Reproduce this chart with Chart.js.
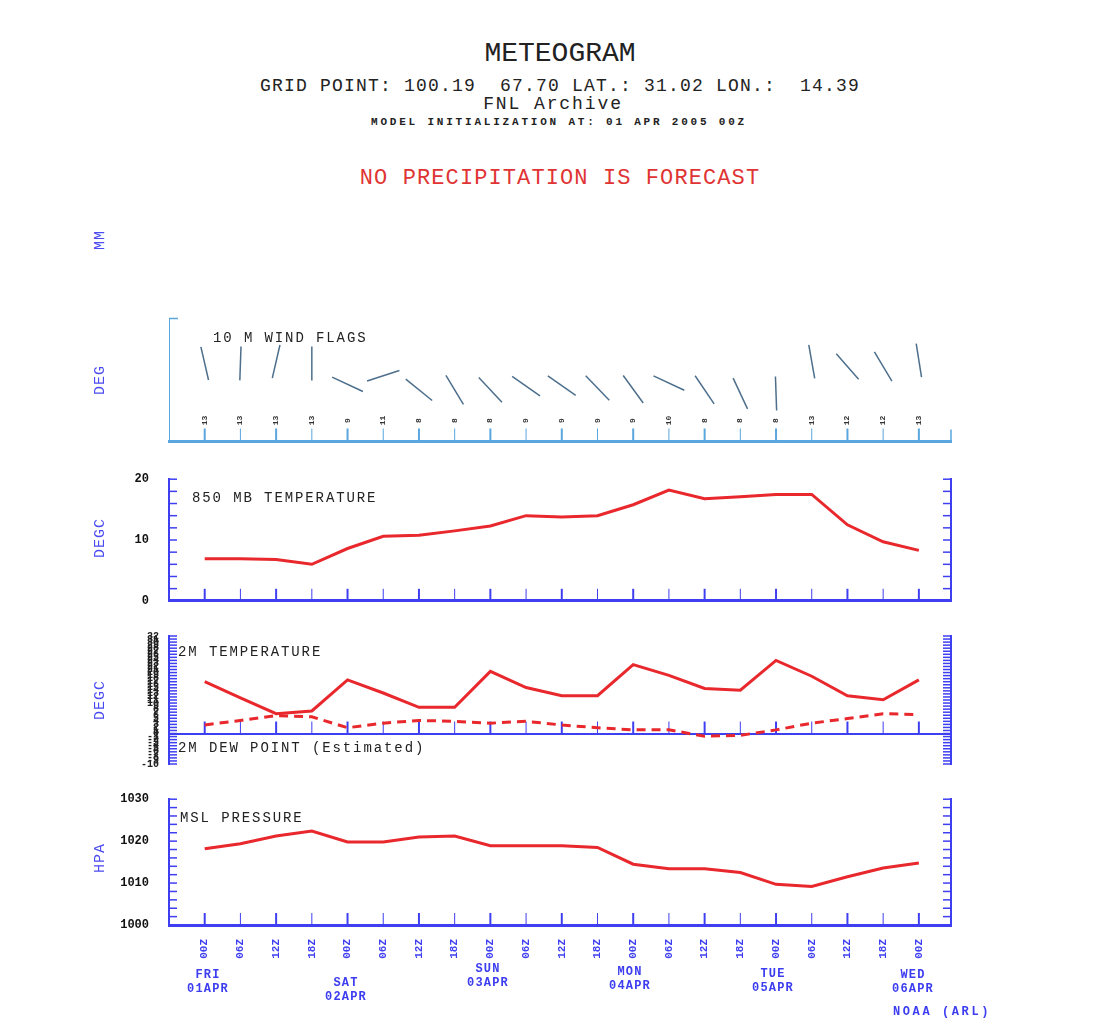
<!DOCTYPE html>
<html>
<head>
<meta charset="utf-8">
<script src="https://cdn.jsdelivr.net/npm/chart.js@4.4.0/dist/chart.umd.min.js"></script>
<style>
  body { margin: 0; background: #fff; width: 1118px; height: 1022px; position: relative; overflow: hidden;
         font-family: "Liberation Mono", "DejaVu Sans Mono", monospace; }
  canvas { position: absolute; left: 0; }
  .t { position: absolute; white-space: pre; line-height: 1; color: #222; }
  .c { transform: translateX(-50%); text-align: center; }
  .ax { position: absolute; white-space: nowrap; line-height: 1; color: #4a4af0; font-size: 15px; letter-spacing: 1px;
        transform: translate(-50%, -50%) rotate(-90deg); }
  .lbl { font-size: 14px; letter-spacing: 1.9px; color: #222; }
  .day { position: absolute; transform: translateX(-50%); text-align: center; color: #3c3cf0; font-weight: bold;
         font-size: 12px; letter-spacing: 1.2px; line-height: 14px; }
</style>
</head>
<body>
<canvas id="wind" width="1118" height="160" style="top:300px"></canvas>
<canvas id="t850" width="1118" height="160" style="top:460px"></canvas>
<canvas id="t2m" width="1118" height="160" style="top:620px"></canvas>
<canvas id="msl" width="1118" height="242" style="top:780px"></canvas>

<div class="t c" style="left:560px;top:40px;font-size:28px;">METEOGRAM</div>
<div class="t c" style="left:560px;top:77px;font-size:18px;letter-spacing:1.2px;">GRID POINT: 100.19  67.70 LAT.: 31.02 LON.:  14.39</div>
<div class="t c" style="left:553px;top:95px;font-size:18px;letter-spacing:1.9px;">FNL Archive</div>
<div class="t c" style="left:559px;top:117px;font-size:11px;font-weight:bold;letter-spacing:2.8px;">MODEL INITIALIZATION AT: 01 APR 2005 00Z</div>
<div class="t c" style="left:560px;top:168px;font-size:22px;letter-spacing:1.1px;color:#e03434;">NO PRECIPITATION IS FORECAST</div>

<div class="ax" style="left:100px;top:240px;">MM</div>
<div class="ax" style="left:100px;top:380px;">DEG</div>
<div class="ax" style="left:100px;top:538px;">DEGC</div>
<div class="ax" style="left:100px;top:700px;">DEGC</div>
<div class="ax" style="left:100px;top:858px;">HPA</div>

<div class="t lbl" style="left:213px;top:331px;">10 M WIND FLAGS</div>
<div class="t lbl" style="left:192px;top:491px;">850 MB TEMPERATURE</div>
<div class="t lbl" style="left:178px;top:645px;">2M TEMPERATURE</div>
<div class="t lbl" style="left:178px;top:741px;">2M DEW POINT (Estimated)</div>
<div class="t lbl" style="left:180px;top:811px;">MSL PRESSURE</div>

<div class="day" style="left:208px;top:968px;">FRI<br>01APR</div>
<div class="day" style="left:346px;top:976px;">SAT<br>02APR</div>
<div class="day" style="left:488px;top:962px;">SUN<br>03APR</div>
<div class="day" style="left:630px;top:965px;">MON<br>04APR</div>
<div class="day" style="left:773px;top:967px;">TUE<br>05APR</div>
<div class="day" style="left:913px;top:968px;">WED<br>06APR</div>
<div class="day" style="transform:none;left:893px;top:1005px;letter-spacing:2.6px;">NOAA (ARL)</div>

<script>
const hours = ["00Z", "06Z", "12Z", "18Z", "00Z", "06Z", "12Z", "18Z", "00Z", "06Z", "12Z",
               "18Z", "00Z", "06Z", "12Z", "18Z", "00Z", "06Z", "12Z", "18Z", "00Z"];

// 10 m wind: staff direction (deg, screen) and speed (kt)
const windDir   = [77, 92, 103, 90, 25, -18, 39, 59, 47, 35, 35, 46, 54, 25, 56, 65, 88, 80, 49, 59, 81];
const windSpeed = [12.7, 12.7, 13.0, 12.7, 9.3, 10.7, 8.4, 8.4, 8.4, 9.0, 9.1, 8.7, 8.5, 9.5, 8.4, 7.8, 7.8, 13.0, 12.2, 12.2, 13.2];

const temp850 = [6.9, 6.9, 6.8, 6.0, 8.6, 10.6, 10.8, 11.5, 12.3, 14.0, 13.8,
                 14.0, 15.8, 18.2, 16.8, 17.1, 17.5, 17.5, 12.5, 9.7, 8.3];
const temp2m  = [17.0, 11.7, 6.5, 7.4, 17.6, 13.3, 8.6, 8.6, 20.4, 15.1, 12.4,
                 12.4, 22.6, 19.1, 14.8, 14.2, 24.0, 18.8, 12.4, 11.1, 17.6];
const dew2m   = [2.8, 4.3, 5.9, 5.5, 1.9, 3.4, 4.3, 4.0, 3.4, 4.0, 2.8,
                 1.9, 1.2, 1.2, -0.9, -0.6, 1.2, 3.4, 4.9, 6.5, 6.2];
const mslp    = [1018.2, 1019.4, 1021.2, 1022.4, 1019.8, 1019.8, 1021.0, 1021.2, 1018.9, 1018.9, 1018.9,
                 1018.5, 1014.5, 1013.4, 1013.4, 1012.5, 1009.7, 1009.2, 1011.5, 1013.6, 1014.8];

const BLUE  = "#3f3ff2";
const LIGHT = "#5aa6de";
const RED   = "#e8282c";
const idx = hours.map((h, i) => i);

function xy(arr) { return arr.map((v, i) => ({ x: i, y: v })); }

// short tick marks pointing into the plot, plus optional labels above the x ticks
const inTicks = {
  id: "inTicks",
  beforeDatasetsDraw(chart, args, o) {
    const { ctx, chartArea: a, scales: { x, y } } = chart;
    const line = (x1, y1, x2, y2) => { ctx.beginPath(); ctx.moveTo(x1, y1); ctx.lineTo(x2, y2); ctx.stroke(); };
    ctx.save();
    ctx.strokeStyle = o.color;
    const by = o.base == null ? a.bottom : y.getPixelForValue(o.base);
    idx.forEach(i => {
      const px = x.getPixelForValue(i);
      ctx.lineWidth = i % 2 ? 1 : 2;
      line(px, by, px, by - o.xLen);
    });
    ctx.lineWidth = 1.5;
    if (o.yLen) {
      y.ticks.forEach(t => {
        const py = y.getPixelForValue(t.value);
        line(a.left, py, a.left + o.yLen, py);
        if (o.right) line(a.right, py, a.right - o.yLen, py);
      });
    }
    if (o.stubs) {
      line(a.left, a.top, a.left + 9, a.top);
      line(a.right, a.bottom, a.right, a.bottom - 12);
    }
    if (o.labels) {
      ctx.fillStyle = "#333";
      ctx.font = "bold 8px 'Liberation Mono'";
      ctx.textAlign = "center";
      ctx.textBaseline = "middle";
      o.labels.forEach((s, i) => {
        ctx.save();
        ctx.translate(x.getPixelForValue(i), a.bottom - 21);
        ctx.rotate(-Math.PI / 2);
        ctx.fillText(s, 0, 0);
        ctx.restore();
      });
    }
    ctx.restore();
  }
};

function xAxis(h, extra) {
  return Object.assign({
    type: "linear", min: -1, max: 20.9,
    afterBuildTicks: s => { s.ticks = idx.map(v => ({ value: v })); },
    afterFit: s => { s.height = h; },
    grid: { display: false },
    ticks: { display: false },
    border: { color: BLUE, width: 3 }
  }, extra);
}

function yAxis(side, min, max, step, ticks, extra) {
  return Object.assign({
    position: side, min: min, max: max,
    afterFit: s => { s.width = side === "left" ? 169 : 167; },
    grid: { display: false },
    border: { color: BLUE, width: 2 },
    ticks: Object.assign({ stepSize: step, maxTicksLimit: 200, autoSkip: false }, ticks)
  }, extra);
}

function base(padTop, scales, pl) {
  return {
    responsive: false,
    animation: false,
    layout: { padding: { top: padTop, left: 0, right: 0, bottom: 0 } },
    plugins: { legend: { display: false }, tooltip: { enabled: false }, inTicks: pl },
    scales: scales
  };
}

const redLine = { borderColor: RED, borderWidth: 3, pointRadius: 0, tension: 0, fill: false };
const hidden = { display: false };

// wind flags
new Chart(document.getElementById("wind"), {
  type: "line",
  data: {
    datasets: [{
      data: xy(windSpeed), showLine: false,
      pointStyle: "line", rotation: windDir, pointRadius: 17,
      pointBorderColor: "#4d6f8c", pointBorderWidth: 1.5
    }]
  },
  options: base(15, {
    x: xAxis(16, { border: { color: LIGHT, width: 3 } }),
    y: yAxis("left", 0, 20, 5, hidden, { border: { color: LIGHT, width: 1 } }),
    y2: yAxis("right", 0, 20, 5, hidden, { border: { display: false } })
  }, { color: LIGHT, xLen: 13, yLen: 0, stubs: true, labels: windSpeed.map(v => String(Math.round(v))) }),
  plugins: [inTicks]
});

const numFont = { family: "Liberation Mono", size: 12, weight: "bold" };

// 850 mb temperature
new Chart(document.getElementById("t850"), {
  type: "line",
  data: { datasets: [Object.assign({ data: xy(temp850) }, redLine)] },
  options: base(13, {
    x: xAxis(17),
    y: yAxis("left", 0, 20, 2, { color: "#111", font: numFont, padding: 12,
                                 callback: v => v % 10 === 0 ? String(v) : "" }),
    y2: yAxis("right", 0, 20, 2, hidden)
  }, { color: BLUE, xLen: 12, yLen: 8, right: true }),
  plugins: [inTicks]
});

// 2 m temperature and dew point
new Chart(document.getElementById("t2m"), {
  type: "line",
  data: {
    datasets: [
      Object.assign({ data: xy(temp2m) }, redLine),
      Object.assign({ data: xy(dew2m), borderDash: [9, 6] }, redLine)
    ]
  },
  options: base(12, {
    x: xAxis(12, { border: { display: false } }),
    y: yAxis("left", -10, 32, 1, { color: "#222", font: { family: "Liberation Mono", size: 10, weight: "bold" }, padding: 10 },
             { grid: { display: true, drawTicks: false, lineWidth: 2,
                       color: c => c.tick && c.tick.value === 0 ? BLUE : "rgba(0,0,0,0)" } }),
    y2: yAxis("right", -10, 32, 1, hidden)
  }, { color: BLUE, xLen: 12, yLen: 8, right: true, base: 0 }),
  plugins: [inTicks]
});

// MSL pressure
new Chart(document.getElementById("msl"), {
  type: "line",
  data: { datasets: [Object.assign({ data: xy(mslp) }, redLine)] },
  options: base(15, {
    x: xAxis(97, {
      ticks: { display: true, color: BLUE, minRotation: 90, maxRotation: 90, autoSkip: false, padding: 6,
               font: { family: "Liberation Mono", size: 11, weight: "bold" },
               callback: v => hours[v] }
    }),
    y: yAxis("left", 1000, 1030, 2, { color: "#111", font: numFont, padding: 12,
                                      callback: v => v % 10 === 0 ? String(v) : "" }),
    y2: yAxis("right", 1000, 1030, 2, hidden)
  }, { color: BLUE, xLen: 12, yLen: 8, right: true }),
  plugins: [inTicks]
});
</script>
</body>
</html>
